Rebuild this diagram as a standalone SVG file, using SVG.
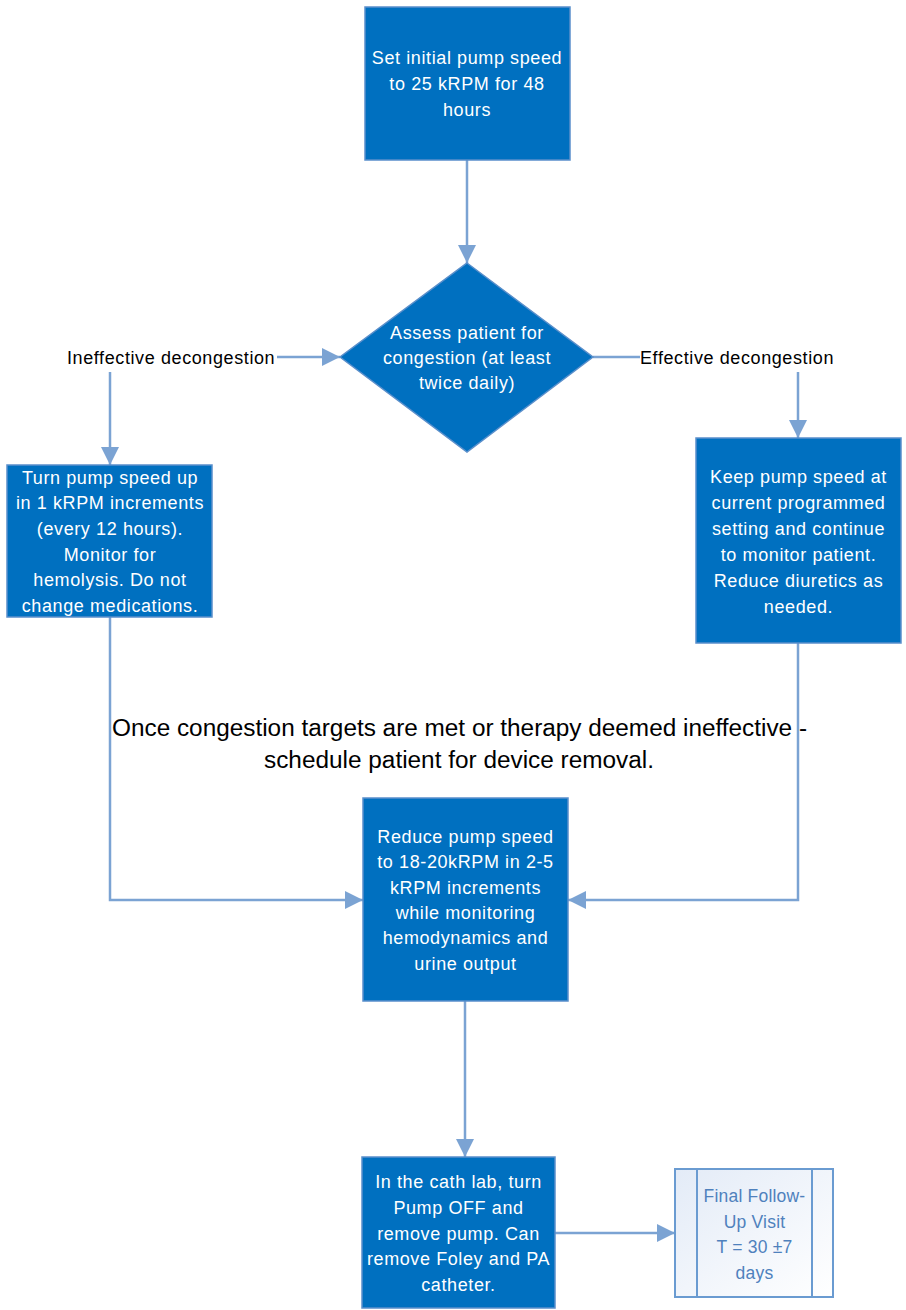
<svg xmlns="http://www.w3.org/2000/svg" width="906" height="1310" viewBox="0 0 906 1310">
<defs>
<style>
.box{fill:#0070c0;stroke:#5a8fcb;stroke-width:1.5}
.wt{fill:#ffffff;font-family:"Liberation Sans",Arial,sans-serif;font-size:18px;letter-spacing:0.6px;text-anchor:middle}
.bt{fill:#000000;font-family:"Liberation Sans",Arial,sans-serif;font-size:18px;letter-spacing:0.6px}
.big{fill:#000000;font-family:"Liberation Sans",Arial,sans-serif;font-size:23px;text-anchor:middle}
.ft{fill:#4f81bd;font-family:"Liberation Sans",Arial,sans-serif;font-size:17.5px;letter-spacing:0.2px;text-anchor:middle}
.con{fill:none;stroke:#7ba3d3;stroke-width:2.5}
.sub{stroke:#6a9bd1;stroke-width:2}
</style>
<marker id="ah" viewBox="0 0 18 18" refX="18" refY="9" markerWidth="18" markerHeight="18" markerUnits="userSpaceOnUse" orient="auto">
<path d="M0,0 L18,9 L0,18 Z" fill="#7ba3d3"/>
</marker>
<linearGradient id="fg" x1="0" y1="0" x2="1" y2="1">
<stop offset="0" stop-color="#e3ebf7"/>
<stop offset="1" stop-color="#ffffff"/>
</linearGradient>
</defs>
<rect width="906" height="1310" fill="#ffffff"/>
<g id="connectors">
<path class="con" d="M467,160 L467,263" marker-end="url(#ah)"/>
<path class="con" d="M277,357 L340,357" marker-end="url(#ah)"/>
<path class="con" d="M593,357 L640,357"/>
<path class="con" d="M110,372 L110,465" marker-end="url(#ah)"/>
<path class="con" d="M798,372 L798,438" marker-end="url(#ah)"/>
<path class="con" d="M110,617 L110,900 L363,900" marker-end="url(#ah)"/>
<path class="con" d="M798,643 L798,900 L568,900" marker-end="url(#ah)"/>
<path class="con" d="M465,1001 L465,1157" marker-end="url(#ah)"/>
<path class="con" d="M555,1233 L675,1233" marker-end="url(#ah)"/>
</g>
<g id="start">
<rect class="box" x="365" y="7" width="205" height="153"/>
<text class="wt"><tspan x="467" y="64">Set initial pump speed</tspan><tspan x="467" y="90">to 25 kRPM for 48</tspan><tspan x="467" y="116">hours</tspan></text>
</g>
<g id="assess">
<polygon class="box" points="467,263 593,357 467,452 340,357"/>
<text class="wt"><tspan x="467" y="339">Assess patient for</tspan><tspan x="467" y="364">congestion (at least</tspan><tspan x="467" y="389">twice daily)</tspan></text>
</g>
<g id="label-ineffective">
<text class="bt" x="67" y="364">Ineffective decongestion</text>
</g>
<g id="label-effective">
<text class="bt" x="640" y="364">Effective decongestion</text>
</g>
<g id="turn-up">
<rect class="box" x="7" y="465" width="205" height="152"/>
<text class="wt"><tspan x="110" y="484">Turn pump speed up</tspan><tspan x="110" y="509">in 1 kRPM increments</tspan><tspan x="110" y="535">(every 12 hours).</tspan><tspan x="110" y="561">Monitor for</tspan><tspan x="110" y="586">hemolysis. Do not</tspan><tspan x="110" y="612">change medications.</tspan></text>
</g>
<g id="keep">
<rect class="box" x="696" y="438" width="205" height="205"/>
<text class="wt"><tspan x="798.5" y="483">Keep pump speed at</tspan><tspan x="798.5" y="509">current programmed</tspan><tspan x="798.5" y="535">setting and continue</tspan><tspan x="798.5" y="561">to monitor patient.</tspan><tspan x="798.5" y="587">Reduce diuretics as</tspan><tspan x="798.5" y="613">needed.</tspan></text>
</g>
<g id="note">
<text class="big" x="459.5" y="736" textLength="695" lengthAdjust="spacingAndGlyphs">Once congestion targets are met or therapy deemed ineffective -</text>
<text class="big" x="459" y="768" textLength="390" lengthAdjust="spacingAndGlyphs">schedule patient for device removal.</text>
</g>
<g id="reduce">
<rect class="box" x="363" y="798" width="205" height="203"/>
<text class="wt"><tspan x="465.5" y="843">Reduce pump speed</tspan><tspan x="465.5" y="868">to 18-20kRPM in 2-5</tspan><tspan x="465.5" y="894">kRPM increments</tspan><tspan x="465.5" y="919">while monitoring</tspan><tspan x="465.5" y="944">hemodynamics and</tspan><tspan x="465.5" y="970">urine output</tspan></text>
</g>
<g id="cathlab">
<rect class="box" x="362" y="1157" width="193" height="151"/>
<text class="wt"><tspan x="458.5" y="1188">In the cath lab, turn</tspan><tspan x="458.5" y="1214">Pump OFF  and</tspan><tspan x="458.5" y="1240">remove pump. Can</tspan><tspan x="458.5" y="1265">remove Foley and PA</tspan><tspan x="458.5" y="1291">catheter.</tspan></text>
</g>
<g id="followup">
<rect x="675" y="1169" width="158" height="128" fill="url(#fg)" stroke="#6a9bd1" stroke-width="2"/>
<line class="sub" x1="697" y1="1169" x2="697" y2="1297"/>
<line class="sub" x1="812" y1="1169" x2="812" y2="1297"/>
<text class="ft"><tspan x="754.5" y="1202">Final Follow-</tspan><tspan x="754.5" y="1228">Up Visit</tspan><tspan x="754.5" y="1253">T = 30 ±7</tspan><tspan x="754.5" y="1279">days</tspan></text>
</g>
</svg>
